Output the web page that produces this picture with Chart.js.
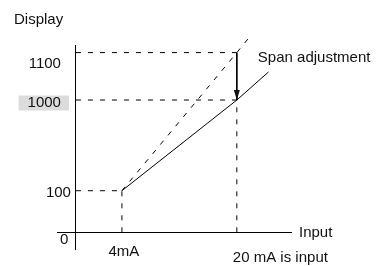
<!DOCTYPE html>
<html>
<head>
<meta charset="utf-8">
<script src="https://cdn.jsdelivr.net/npm/chart.js@4.4.0/dist/chart.umd.min.js"></script>
<style>
  html, body { margin: 0; padding: 0; background: #fff; }
</style>
</head>
<body>
<canvas id="chart-span" width="380" height="266"></canvas>
<script>
// input current (mA) and display readings
const inputMA = [4, 20];
const displayBefore = [100, 1100];   // before span adjustment
const displayAfter = [100, 1000];    // after span adjustment
// where the drawn lines stop beyond 20 mA
const beforeEnd = [22.1, 1139];
const afterEnd = [24.4, 1059];

const yTickValues = [0, 100, 1000, 1100];
const yTickLabels = ['0', '100', '1000', '1100'];
const xTickValues = [4, 20];
const xTickLabels = ['4mA', '20 mA is input'];

// schematic (not to scale) axes: value -> scale unit break points
const scaleBreaks = {
  x: [[0, 0], [4, 4], [20, 14]],
  y: [[0, 0], [100, 1], [1000, 3.18], [1100, 4.32]]
};

class SchematicScale extends Chart.LinearScale {
  static id = 'schematic';
  toUnit(v) {
    const b = scaleBreaks[this.axis];
    let i = 1;
    while (i < b.length - 1 && v > b[i][0]) i++;
    const [v0, u0] = b[i - 1];
    const [v1, u1] = b[i];
    return u0 + (v - v0) * (u1 - u0) / (v1 - v0);
  }
  getPixelForValue(v) {
    const lo = this.toUnit(this.min);
    const hi = this.toUnit(this.max);
    return this.getPixelForDecimal((this.toUnit(v) - lo) / (hi - lo));
  }
}
Chart.register(SchematicScale);

const FONT = '15px "Liberation Sans", Arial, sans-serif';
const pts = (xs, ys) => xs.map((x, i) => ({ x, y: ys[i] }));

const solid = { borderColor: '#000', borderWidth: 1, pointRadius: 0, fill: false, clip: false };
const dashed = { ...solid, borderDash: [5, 7] };

const xA = inputMA[0], xB = inputMA[1];
const datasets = [
  // guide lines
  { ...dashed, data: pts([0, xB], [displayBefore[1], displayBefore[1]]) },
  { ...dashed, data: pts([0, xB], [displayAfter[1], displayAfter[1]]) },
  { ...dashed, data: pts([0, xA], [displayAfter[0], displayAfter[0]]) },
  { ...dashed, data: pts([xA, xA], [0, displayAfter[0]]) },
  { ...dashed, data: pts([xB, xB], [0, displayAfter[1]]) },
  // characteristic before adjustment
  { ...dashed, data: pts([...inputMA, beforeEnd[0]], [...displayBefore, beforeEnd[1]]) },
  // characteristic after adjustment
  { ...solid, data: pts([...inputMA, afterEnd[0]], [...displayAfter, afterEnd[1]]) },
  // span adjustment arrow shaft
  { ...solid, data: pts([xB, xB], [displayBefore[1], displayAfter[1]]) }
];

const axisOnly = {
  afterBuildTicks: (scale) => { scale.ticks = [{ value: 0 }]; },
  bounds: 'data',
  grid: {
    color: (c) => (c.tick && c.tick.value === 0 ? '#000' : 'rgba(0,0,0,0)'),
    lineWidth: 1,
    drawTicks: false
  },
  border: { display: false },
  ticks: { display: false }
};

const labels = {
  id: 'labels',
  afterDatasetsDraw(chart) {
    const { ctx, chartArea: { top, right }, scales: { x, y } } = chart;
    const x0 = x.getPixelForValue(0);
    const y0 = y.getPixelForValue(0);
    ctx.save();
    ctx.font = FONT;
    ctx.fillStyle = '#111';
    ctx.textBaseline = 'alphabetic';

    // arrow head
    const meta = chart.getDatasetMeta(datasets.length - 1);
    const tip = meta.data[1];
    ctx.beginPath();
    ctx.moveTo(tip.x, tip.y);
    ctx.lineTo(tip.x - 3, tip.y - 10);
    ctx.lineTo(tip.x + 3, tip.y - 10);
    ctx.closePath();
    ctx.fill();

    // y labels: [right edge from axis, baseline from tick]
    const yOff = [[-7.5, 12], [-5, 6], [-15, 6.5], [-15, 15.4]];
    yTickValues.forEach((v, i) => {
      const tx = x0 + yOff[i][0];
      const ty = y.getPixelForValue(v) + yOff[i][1];
      const w = ctx.measureText(yTickLabels[i]).width;
      if (v === displayAfter[1]) {
        ctx.fillStyle = '#dcdcdc';
        ctx.fillRect(tx - w - 9, ty - 11, w + 17, 15);
        ctx.fillStyle = '#111';
      }
      ctx.textAlign = 'right';
      ctx.fillText(yTickLabels[i], tx, ty);
    });

    // x labels
    ctx.textAlign = 'center';
    ctx.fillText(xTickLabels[0], x.getPixelForValue(xTickValues[0]) + 2, y0 + 23.2);
    ctx.textAlign = 'left';
    ctx.fillText(xTickLabels[1], x.getPixelForValue(xTickValues[1]) - 4, y0 + 30);

    // axis titles and annotation
    ctx.fillText('Display', x0 - 62, top - 21.3);
    ctx.fillText('Input', right + 7, y0 + 5);
    ctx.fillText('Span adjustment', x.getPixelForValue(xB) + 21, y.getPixelForValue(displayBefore[1]) + 9);
    ctx.restore();
  }
};

new Chart(document.getElementById('chart-span'), {
  type: 'line',
  data: { datasets },
  options: {
    responsive: false,
    animation: false,
    events: [],
    layout: { padding: { left: 57, right: 88, top: 45, bottom: 16 } },
    plugins: { legend: { display: false }, tooltip: { enabled: false } },
    scales: {
      x: { type: 'schematic', min: -1.65, max: 27.68, ...axisOnly },
      y: { type: 'schematic', min: -42.5, max: 1116, ...axisOnly }
    }
  },
  plugins: [labels]
});
</script>
</body>
</html>
